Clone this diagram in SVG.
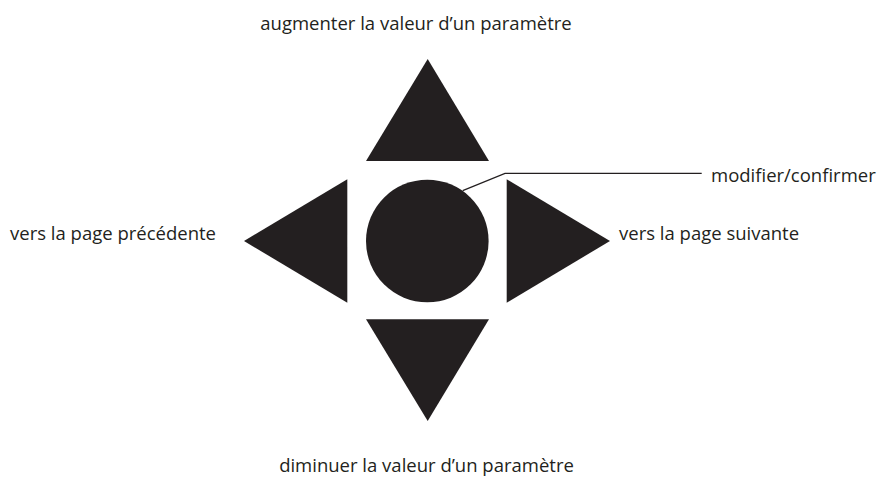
<svg xmlns="http://www.w3.org/2000/svg" width="877" height="477" viewBox="0 0 877 477">
<style>
.shape{fill:#231f20;}
.lbl{font-family:"Open Sans","Noto Sans",sans-serif;font-size:18.5px;fill:#231f20;}
.lead{fill:none;stroke:#231f20;stroke-width:1.3;}
</style>
<rect width="877" height="477" fill="#fff"/>
<g id="up">
<polygon class="shape" points="427.7,59 489,161 366,161"/>
<text class="lbl" x="416" y="30" text-anchor="middle">augmenter la valeur d’un paramètre</text>
</g>
<g id="left">
<polygon class="shape" points="244,241 347.3,179.3 347.3,302.7"/>
<text class="lbl" x="10" y="240">vers la page précédente</text>
</g>
<g id="center">
<circle class="shape" cx="427.3" cy="241" r="61.3"/>
</g>
<g id="right">
<polygon class="shape" points="610,241 506.7,179.3 506.7,302.7"/>
<text class="lbl" x="619" y="240">vers la page suivante</text>
</g>
<g id="down">
<polygon class="shape" points="366,319.3 489,319.3 427.7,421"/>
<text class="lbl" x="426.5" y="472" text-anchor="middle">diminuer la valeur d’un paramètre</text>
</g>
<g id="confirm-label">
<text class="lbl" x="711" y="182">modifier/confirmer</text>
</g>
<g id="connectors">
<polyline class="lead" points="462.7,190.7 505,173.3 701.7,173.3"/>
</g>
</svg>
